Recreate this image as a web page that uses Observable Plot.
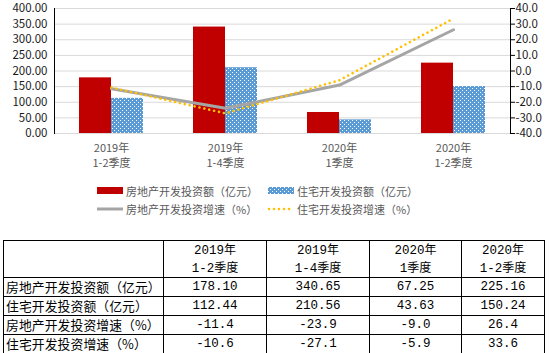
<!DOCTYPE html>
<html><head><meta charset="utf-8">
<script src="https://cdn.jsdelivr.net/npm/d3@7"></script>
<script src="https://cdn.jsdelivr.net/npm/@observablehq/plot@0.6"></script>
<style>
body{margin:0;background:#fff;}
#wrap{position:relative;width:551px;height:353px;overflow:hidden;font-family:"Noto Sans CJK SC",sans-serif;}
#chart{position:absolute;left:0;top:0;}
.lg{position:absolute;font-size:11px;color:#595959;line-height:14px;white-space:nowrap;}
.sw{position:absolute;}
table{position:absolute;left:3px;top:240px;border-collapse:collapse;table-layout:fixed;font-family:"Liberation Mono","Noto Sans CJK SC",monospace;font-size:12.5px;color:#000;}
td{border:1px solid #000;padding:0;text-align:center;line-height:16px;white-space:nowrap;box-sizing:border-box;}
td.h{text-align:left;padding-left:2px;font-family:"Noto Sans CJK SC",sans-serif;font-size:12.8px;letter-spacing:0.1px;}
tr.hd td{height:32px;line-height:15px;font-size:12.5px;}
tr.r td{height:19px;}
.cj{font-family:"Noto Sans CJK SC",sans-serif;font-size:12px;}
</style>
</head><body>
<div id="wrap"><div id="chart"></div><div id="legend"></div><div id="tbl"></div></div>
<script>
const years = ["2019年", "2019年", "2020年", "2020年"];
const periods = ["1-2季度", "1-4季度", "1季度", "1-2季度"];
const seriesNames = ["房地产开发投资额（亿元）", "住宅开发投资额（亿元）", "房地产开发投资增速（%）", "住宅开发投资增速（%）"];
const realEstateInvest = [178.10, 340.65, 67.25, 225.16];
const housingInvest = [112.44, 210.56, 43.63, 150.24];
const realEstateGrowth = [-11.4, -23.9, -9.0, 26.4];
const housingGrowth = [-10.6, -27.1, -5.9, 33.6];
const leftTicks = [0, 50, 100, 150, 200, 250, 300, 350, 400];
const rightTicks = [-40, -30, -20, -10, 0, 10, 20, 30, 40];

const categories = years.map((y, i) => y + "\n" + periods[i]);
// map right-axis (%) values onto the left scale: [-40,40] -> [0,400]
const toLeft = v => (v + 40) * 5;
const fromLeft = v => v / 5 - 40;
const rows = categories.map((c, i) => ({
  cat: c, re: realEstateInvest[i], ho: housingInvest[i],
  reg: toLeft(realEstateGrowth[i]), hog: toLeft(housingGrowth[i])
}));

const chart = Plot.plot({
  width: 551, height: 175,
  marginTop: 8, marginBottom: 42, marginLeft: 54, marginRight: 41,
  style: {fontFamily: "Noto Sans CJK SC", fontSize: "11px", background: "transparent"},
  x: {type: "band", domain: categories, padding: 0, axis: null, label: null},
  y: {domain: [0, 400], axis: null, label: null},
  marks: [
    Plot.ruleY(leftTicks, {stroke: "#d9d9d9", strokeWidth: 1}),
    Plot.barY(rows, {x: "cat", y: "re", fill: "#C00000", insetLeft: 25, insetRight: 57}),
    Plot.barY(rows, {x: "cat", y: "ho", fill: "url(#dots)", insetLeft: 57, insetRight: 25}),
    Plot.line(rows, {x: "cat", y: "reg", stroke: "#A5A5A5", strokeWidth: 3, strokeLinejoin: "round"}),
    Plot.line(rows, {x: "cat", y: "hog", stroke: "#FFC000", strokeWidth: 2.6, strokeDasharray: "0.01 5", strokeLinecap: "round"}),
    Plot.frame({anchor: "left", stroke: "#000"}),
    Plot.frame({anchor: "right", stroke: "#000"}),
    Plot.axisY(leftTicks, {anchor: "left", label: null, tickSize: 0, tickPadding: 7, tickFormat: d => d.toFixed(2), fill: "#1a1a1a", fontSize: 11.5}),
    Plot.axisY(rightTicks.map(toLeft), {anchor: "right", label: null, tickSize: 4, tickPadding: 1, stroke: "#000", tickFormat: d => fromLeft(d).toFixed(1), fill: "#1a1a1a", fontSize: 11.5}),
    Plot.axisX(categories, {anchor: "bottom", label: null, tickSize: 0, tickPadding: 8, fill: "#595959", lineHeight: 1.36, fontSize: 11})
  ]
});
document.getElementById("chart").appendChild(chart);
const svg = d3.select(chart.tagName === "svg" ? chart : chart.querySelector("svg"));
const defs = svg.insert("defs", ":first-child");
function addPattern(d, id) {
  const p = d.append("pattern").attr("id", id).attr("patternUnits", "userSpaceOnUse").attr("width", 4).attr("height", 4);
  p.append("rect").attr("width", 4).attr("height", 4).attr("fill", "#5B9BD5");
  p.append("rect").attr("x", 0).attr("y", 0).attr("width", 1).attr("height", 1).attr("fill", "#fff");
  p.append("rect").attr("x", 2).attr("y", 2).attr("width", 1).attr("height", 1).attr("fill", "#fff");
}
addPattern(defs, "dots");

// legend
const lg = document.getElementById("legend");
const swatches = [
  `<svg class="sw" style="left:97px;top:187px" width="26" height="8"><rect width="26" height="7" fill="#C00000"/></svg>`,
  `<svg class="sw" style="left:268px;top:187px" width="26" height="8"><rect width="26" height="7" fill="url(#dots)"/></svg>`,
  `<svg class="sw" style="left:96px;top:206px" width="28" height="6"><line x1="1" x2="27" y1="3" y2="3" stroke="#A5A5A5" stroke-width="3"/></svg>`,
  `<svg class="sw" style="left:266px;top:206px" width="30" height="6"><line x1="3" x2="27" y1="3" y2="3" stroke="#FFC000" stroke-width="2.6" stroke-dasharray="0.01 5" stroke-linecap="round"/></svg>`
];
const pos = [[126, 184], [297, 184], [126, 202], [297, 202]];
lg.innerHTML = swatches.join("") + seriesNames.map((n, i) =>
  `<div class="lg" style="left:${pos[i][0]}px;top:${pos[i][1]}px">${n}</div>`).join("");

// table
const colW = [160, 103, 103, 92, 83];
const tableRows = [realEstateInvest.map(v => v.toFixed(2)), housingInvest.map(v => v.toFixed(2)),
  realEstateGrowth.map(v => v.toFixed(1)), housingGrowth.map(v => v.toFixed(1))];
let html = `<table style="width:${d3.sum(colW)}px"><colgroup>${colW.map(w => `<col style="width:${w}px">`).join("")}</colgroup>`;
html += `<tr class="hd"><td></td>${years.map((y, i) => `<td>${y.replace(/年/, '<span class="cj">年</span>')}<br>${periods[i].replace(/季度/, '<span class="cj">季度</span>')}</td>`).join("")}</tr>`;
tableRows.forEach((r, i) => {
  html += `<tr class="r"><td class="h">${seriesNames[i]}</td>${r.map(v => `<td>${v}</td>`).join("")}</tr>`;
});
html += "</table>";
document.getElementById("tbl").innerHTML = html;
</script>
</body></html>
